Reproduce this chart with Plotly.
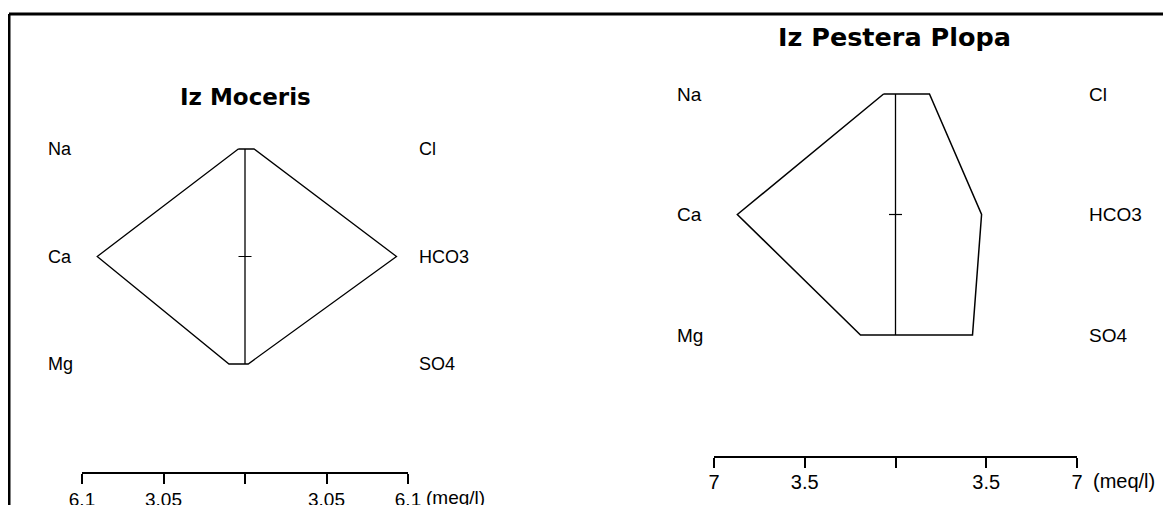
import plotly.graph_objects as go

W, H = 1171, 505
OFF = 8  # page body margin compensation

# ---- data (meq/l) ----
ions_left = ["Na", "Ca", "Mg"]
ions_right = ["Cl", "HCO3", "SO4"]

moceris_title = "Iz Moceris"
moceris_cations = [0.25, 5.53, 0.60]   # Na, Ca, Mg
moceris_anions = [0.34, 5.67, 0.12]    # Cl, HCO3, SO4
moceris_scale = 6.1
moceris_ticks = ["6.1", "3.05", "", "3.05", "6.1"]

plopa_title = "Iz Pestera Plopa"
plopa_cations = [0.46, 6.10, 1.35]
plopa_anions = [1.31, 3.32, 2.97]
plopa_scale = 7
plopa_ticks = ["7", "3.5", "", "3.5", "7"]

rows = [1, 0, -1]

def px_x(p):
    return (p - OFF) / W

def px_y(p):
    return 1 - (p - OFF) / H

fig = go.Figure()

panels = [
    dict(title=moceris_title, cat=moceris_cations, an=moceris_anions, scale=moceris_scale,
         ticks=moceris_ticks, x0=82, x1=408, ytop=149, ybot=364, axis_y=473,
         title_xy=(245, 97), title_size=23, lab_l=46, lab_r=417, lab_size=18,
         tick_size=19, standoff=-1, meq_x=424, meq_y=497, lw=1.3, xa="x", ya="y"),
    dict(title=plopa_title, cat=plopa_cations, an=plopa_anions, scale=plopa_scale,
         ticks=plopa_ticks, x0=714, x1=1077, ytop=94, ybot=335, axis_y=457,
         title_xy=(894, 37), title_size=25.5, lab_l=675, lab_r=1087, lab_size=19,
         tick_size=20, standoff=-3, meq_x=1091, meq_y=481, lw=1.5, xa="x2", ya="y2"),
]

for i, p in enumerate(panels):
    sfx = "" if i == 0 else str(i + 1)
    s = p["scale"]
    pad = 0.1
    unit = (p["ybot"] - p["ytop"]) / 2.0
    dom_top = p["ytop"] - pad * unit
    dom_bot = p["ybot"] + pad * unit
    # polygon
    xs = [-v for v in p["cat"]] + [v for v in reversed(p["an"])] + [-p["cat"][0]]
    ys = rows + list(reversed(rows)) + [rows[0]]
    fig.add_trace(go.Scatter(x=xs, y=ys, mode="lines", line=dict(color="black", width=p["lw"]),
                             xaxis=p["xa"], yaxis=p["ya"], showlegend=False, hoverinfo="skip"))
    # center line
    fig.add_trace(go.Scatter(x=[0, 0], y=[rows[0], rows[-1]], mode="lines",
                             line=dict(color="black", width=1.3),
                             xaxis=p["xa"], yaxis=p["ya"], showlegend=False, hoverinfo="skip"))
    # small centre tick
    half = 6.5 * (2 * s) / (p["x1"] - p["x0"])
    fig.add_trace(go.Scatter(x=[-half, half], y=[0, 0], mode="lines",
                             line=dict(color="black", width=1.2),
                             xaxis=p["xa"], yaxis=p["ya"], showlegend=False, hoverinfo="skip"))
    fig.layout["xaxis" + sfx] = dict(
        domain=[px_x(p["x0"]), px_x(p["x1"])], range=[-s, s], anchor="free",
        position=px_y(p["axis_y"]), showline=True, linecolor="black", linewidth=2,
        showgrid=False, zeroline=False, ticks="outside", ticklen=10, tickwidth=1.5,
        tickcolor="black", tickvals=[-s, -s / 2, 0, s / 2, s], ticktext=p["ticks"],
        tickfont=dict(family="Liberation Sans, Arial", size=p["tick_size"], color="black"),
        ticklabelstandoff=p["standoff"], fixedrange=True, automargin=False,
    )
    fig.layout["yaxis" + sfx] = dict(
        domain=[px_y(dom_bot), px_y(dom_top)], range=[-1 - pad, 1 + pad], visible=False,
        anchor=p["xa"], fixedrange=True, automargin=False,
    )
    # title
    fig.add_annotation(text="<b>%s</b>" % p["title"], x=px_x(p["title_xy"][0]), y=px_y(p["title_xy"][1]),
                       xref="paper", yref="paper", showarrow=False, xanchor="center", yanchor="middle",
                       font=dict(family="DejaVu Sans", size=p["title_size"], color="black"))
    # ion labels
    for lab, r in zip(ions_left, rows):
        fig.add_annotation(text=lab, x=px_x(p["lab_l"]), y=r, xref="paper", yref=p["ya"],
                           showarrow=False, xanchor="left", yanchor="middle",
                           font=dict(family="Liberation Sans, Arial", size=p["lab_size"], color="black"))
    for lab, r in zip(ions_right, rows):
        fig.add_annotation(text=lab, x=px_x(p["lab_r"]), y=r, xref="paper", yref=p["ya"],
                           showarrow=False, xanchor="left", yanchor="middle",
                           font=dict(family="Liberation Sans, Arial", size=p["lab_size"], color="black"))
    # unit label
    fig.add_annotation(text="(meq/l)", x=px_x(p["meq_x"]), y=px_y(p["meq_y"]), xref="paper", yref="paper",
                       showarrow=False, xanchor="left", yanchor="middle",
                       font=dict(family="Liberation Sans, Arial", size=p["tick_size"], color="black"))

# frame lines (top and left)
fig.add_shape(type="line", xref="paper", yref="paper", x0=px_x(9), x1=1.0, y0=px_y(14), y1=px_y(14),
              line=dict(color="black", width=3))
fig.add_shape(type="line", xref="paper", yref="paper", x0=px_x(9), x1=px_x(9), y0=px_y(14), y1=0,
              line=dict(color="black", width=3))

fig.update_layout(width=W, height=H, margin=dict(l=0, r=0, t=0, b=0, autoexpand=False),
                  paper_bgcolor="white", plot_bgcolor="rgba(0,0,0,0)", showlegend=False)

fig.write_html("out.html")
